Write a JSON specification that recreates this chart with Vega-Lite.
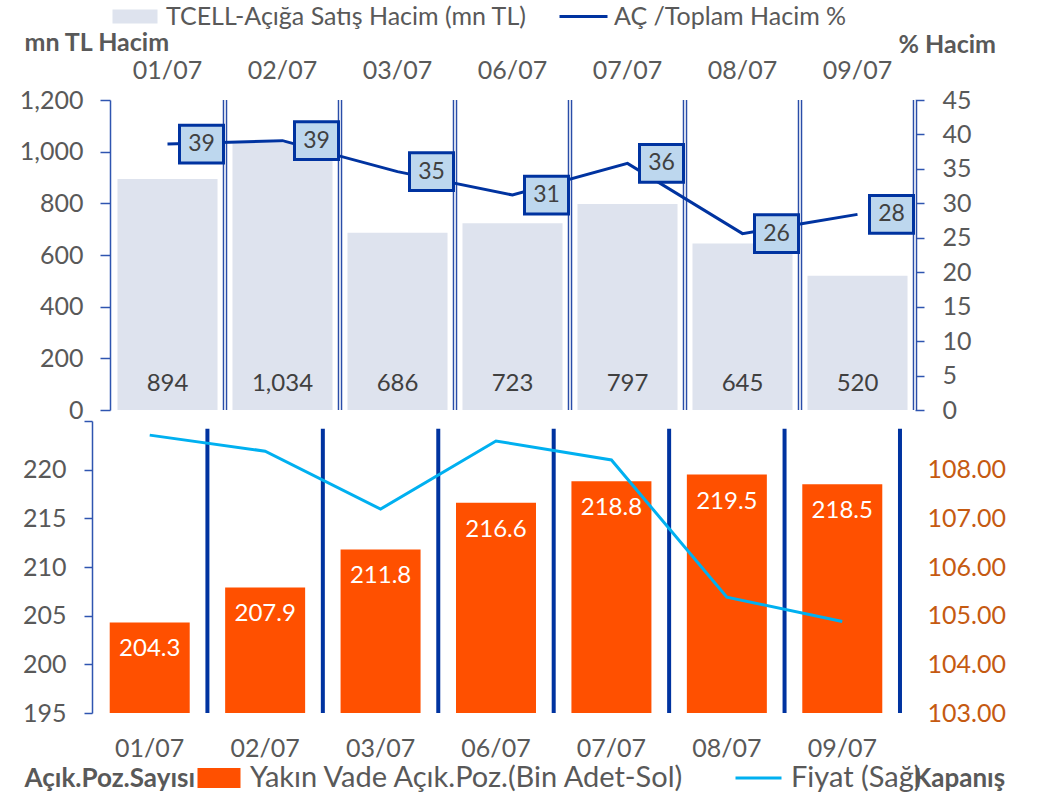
{
  "$schema": "https://vega.github.io/schema/vega-lite/v6.json",
  "autosize": {"type": "pad"},
  "padding": {"left": 19, "top": 4, "right": 5, "bottom": 5},
  "background": "white",
  "config": {
    "font": "Lato",
    "view": {"stroke": null},
    "axis": {"grid": false, "labelFont": "Lato", "titleFont": "Lato"},
    "legend": {"labelFont": "Lato", "titleFont": "Lato", "labelLimit": 0}
  },
  "datasets": {
    "d": [
      {"date": "01/07", "vol": 894, "pct": 38.6, "pos": 204.3, "price": 108.71},
      {"date": "02/07", "vol": 1034, "pct": 39.1, "pos": 207.9, "price": 108.38},
      {"date": "03/07", "vol": 686, "pct": 34.6, "pos": 211.8, "price": 107.19},
      {"date": "06/07", "vol": 723, "pct": 31.2, "pos": 216.6, "price": 108.59},
      {"date": "07/07", "vol": 797, "pct": 35.8, "pos": 218.8, "price": 108.2},
      {"date": "08/07", "vol": 645, "pct": 25.6, "pos": 219.5, "price": 105.38},
      {"date": "09/07", "vol": 520, "pct": 28.4, "pos": 218.5, "price": 104.88}
    ]
  },
  "data": {"name": "d"},
  "spacing": 11,
  "bounds": "flush",
  "resolve": {
    "scale": {"fill": "independent", "stroke": "independent", "x": "independent"},
    "legend": {"fill": "independent", "stroke": "independent"}
  },
  "vconcat": [
    {
      "width": 823,
      "height": 310,
      "encoding": {
        "x": {
          "field": "date", "type": "ordinal", "sort": null,
          "scale": {"range": [18, 823], "paddingInner": 0.13, "paddingOuter": 0.065},
          "axis": {"orient": "top", "title": null, "domain": false, "ticks": false, "labelAngle": 0, "labelFontSize": 25, "labelColor": "#595959", "labelPadding": 17}
        }
      },
      "layer": [
        {
          "layer": [
            {
              "mark": {"type": "bar"},
              "encoding": {
                "y": {
                  "field": "vol", "type": "quantitative",
                  "scale": {"domain": [0, 1200], "nice": false, "zero": true},
                  "axis": {
                    "orient": "left", "offset": -18,
                    "values": [0, 200, 400, 600, 800, 1000, 1200], "format": ",.0f", "labelOverlap": false,
                    "labelFontSize": 25, "labelColor": "#595959", "labelPadding": 17,
                    "tickSize": 10, "tickColor": "#2F55B0", "tickWidth": 1.5,
                    "domainColor": "#2F55B0", "domainWidth": 1.5,
                    "title": "mn TL Hacim", "titleAngle": 0, "titleAlign": "left", "titleBaseline": "middle",
                    "titleX": -86, "titleY": -58, "titleFontSize": 25, "titleFontWeight": "bold", "titleColor": "#595959"
                  }
                },
                "fill": {
                  "datum": "TCELL-Açığa Satış Hacim (mn TL)",
                  "scale": {"range": ["#DEE3EE"]},
                  "legend": {
                    "orient": "none", "legendX": 15, "legendY": -96, "title": null,
                    "symbolType": "M-1,-1H5.43V1H-1Z", "symbolSize": 196, "symbolStrokeWidth": 0,
                    "labelFontSize": 25, "labelColor": "#595959", "labelOffset": 34
                  }
                }
              }
            },
            {"mark": {"type": "rule", "color": "#2A4DA8", "strokeWidth": 4.5, "xOffset": 57.5}, "encoding": {}},
            {"mark": {"type": "rule", "color": "white", "strokeWidth": 1.6, "xOffset": 57.5}, "encoding": {}},
            {
              "mark": {"type": "text", "baseline": "middle", "dy": -26, "fontSize": 24, "color": "#404040"},
              "encoding": {
                "y": {
                  "datum": 0, "type": "quantitative",
                  "scale": {"domain": [0, 1200], "nice": false, "zero": true},
                  "axis": {
                    "orient": "left", "offset": -18,
                    "values": [0, 200, 400, 600, 800, 1000, 1200], "format": ",.0f", "labelOverlap": false,
                    "labelFontSize": 25, "labelColor": "#595959", "labelPadding": 17,
                    "tickSize": 10, "tickColor": "#2F55B0", "tickWidth": 1.5,
                    "domainColor": "#2F55B0", "domainWidth": 1.5,
                    "title": "mn TL Hacim", "titleAngle": 0, "titleAlign": "left", "titleBaseline": "middle",
                    "titleX": -86, "titleY": -58, "titleFontSize": 25, "titleFontWeight": "bold", "titleColor": "#595959"
                  }
                },
                "text": {"field": "vol", "type": "quantitative", "format": ",.0f"}
              }
            }
          ]
        },
        {
          "encoding": {
            "y": {
              "field": "pct", "type": "quantitative",
              "scale": {"domain": [0, 45], "nice": false},
              "axis": {
                "orient": "right", "values": [0, 5, 10, 15, 20, 25, 30, 35, 40, 45], "format": ".0f",
                "labelOverlap": false,
                "labelFontSize": 25, "labelColor": "#595959", "labelPadding": 18,
                "tickSize": 9, "tickColor": "#2F55B0", "tickWidth": 1.5, "domain": false,
                "title": "% Hacim", "titleAngle": 0, "titleAlign": "left", "titleBaseline": "middle",
                "titleX": -17, "titleY": -56, "titleFontSize": 25, "titleFontWeight": "bold", "titleColor": "#595959"
              }
            }
          },
          "layer": [
            {
              "mark": {"type": "line", "strokeWidth": 3},
              "encoding": {
                "stroke": {
                  "datum": "AÇ /Toplam Hacim %",
                  "scale": {"range": ["#0033A0"]},
                  "legend": {
                    "orient": "none", "legendX": 459, "legendY": -96, "title": null,
                    "symbolType": "M-1,0H11", "symbolSize": 64, "symbolStrokeWidth": 3,
                    "labelFontSize": 25, "labelColor": "#595959", "labelOffset": 38
                  }
                }
              }
            },
            {
              "mark": {"type": "point", "shape": "M-1,-0.86H1V0.86H-1Z", "size": 1936, "filled": true, "fill": "#BDD7EE", "stroke": "#0033A0", "strokeWidth": 3, "opacity": 1, "xOffset": 34},
              "encoding": {}
            },
            {
              "mark": {"type": "text", "baseline": "middle", "fontSize": 23, "color": "#404040", "xOffset": 34},
              "encoding": {"text": {"field": "pct", "type": "quantitative", "format": ".0f"}}
            }
          ]
        }
      ],
      "resolve": {"scale": {"y": "independent"}}
    },
    {
      "width": 808,
      "height": 292,
      "encoding": {
        "x": {
          "field": "date", "type": "ordinal", "sort": null,
          "scale": {"paddingInner": 0.307, "paddingOuter": 0.1535},
          "axis": {"orient": "bottom", "title": null, "domain": false, "ticks": false, "labelAngle": 0, "labelFontSize": 25, "labelColor": "#595959", "labelPadding": 23}
        }
      },
      "layer": [
        {
          "layer": [
            {
              "mark": {"type": "bar"},
              "encoding": {
                "y": {
                  "field": "pos", "type": "quantitative",
                  "scale": {"domain": [195, 225], "zero": false, "nice": false},
                  "axis": {
                    "orient": "left", "values": [195, 200, 205, 210, 215, 220, 225], "format": ".0f", "labelOverlap": false,
                    "labelExpr": "datum.value >= 225 ? '' : datum.label",
                    "labelFontSize": 25, "labelColor": "#595959", "labelPadding": 18,
                    "tickSize": 8, "tickColor": "#2F55B0", "tickWidth": 1.5,
                    "domainColor": "#2F55B0", "domainWidth": 1.5,
                    "title": "Açık.Poz.Sayısı", "titleAngle": 0, "titleAlign": "left", "titleBaseline": "middle",
                    "titleX": -68, "titleY": 357, "titleFontSize": 26, "titleFontWeight": "bold", "titleColor": "#595959"
                  }
                },
                "y2": {"datum": 195},
                "fill": {
                  "datum": "Yakın Vade Açık.Poz.(Bin Adet-Sol)",
                  "scale": {"range": ["#FF5000"]},
                  "legend": {
                    "orient": "none", "legendX": 101, "legendY": 342.5, "title": null,
                    "symbolType": "M-1,-1H3.3V1H-1Z", "symbolSize": 400, "symbolStrokeWidth": 0,
                    "labelFontSize": 29, "labelColor": "#595959", "labelOffset": 28
                  }
                }
              }
            },
            {
              "mark": {"type": "rule", "color": "#0033A0", "strokeWidth": 4, "xOffset": 57.7},
              "encoding": {
                "y": {
                  "datum": 224.2, "type": "quantitative",
                  "scale": {"domain": [195, 225], "zero": false, "nice": false},
                  "axis": {
                    "orient": "left", "values": [195, 200, 205, 210, 215, 220, 225], "format": ".0f", "labelOverlap": false,
                    "labelExpr": "datum.value >= 225 ? '' : datum.label",
                    "labelFontSize": 25, "labelColor": "#595959", "labelPadding": 18,
                    "tickSize": 8, "tickColor": "#2F55B0", "tickWidth": 1.5,
                    "domainColor": "#2F55B0", "domainWidth": 1.5,
                    "title": "Açık.Poz.Sayısı", "titleAngle": 0, "titleAlign": "left", "titleBaseline": "middle",
                    "titleX": -68, "titleY": 357, "titleFontSize": 26, "titleFontWeight": "bold", "titleColor": "#595959"
                  }
                },
                "y2": {"datum": 195}
              }
            },
            {
              "mark": {"type": "text", "baseline": "middle", "dy": 27, "fontSize": 24, "color": "white"},
              "encoding": {
                "y": {
                  "field": "pos", "type": "quantitative",
                  "scale": {"domain": [195, 225], "zero": false, "nice": false},
                  "axis": {
                    "orient": "left", "values": [195, 200, 205, 210, 215, 220, 225], "format": ".0f", "labelOverlap": false,
                    "labelExpr": "datum.value >= 225 ? '' : datum.label",
                    "labelFontSize": 25, "labelColor": "#595959", "labelPadding": 18,
                    "tickSize": 8, "tickColor": "#2F55B0", "tickWidth": 1.5,
                    "domainColor": "#2F55B0", "domainWidth": 1.5,
                    "title": "Açık.Poz.Sayısı", "titleAngle": 0, "titleAlign": "left", "titleBaseline": "middle",
                    "titleX": -68, "titleY": 357, "titleFontSize": 26, "titleFontWeight": "bold", "titleColor": "#595959"
                  }
                },
                "text": {"field": "pos", "type": "quantitative", "format": ".1f"}
              }
            }
          ]
        },
        {
          "layer": [
            {
              "mark": {"type": "line", "strokeWidth": 3},
              "encoding": {
                "y": {
                  "field": "price", "type": "quantitative",
                  "scale": {"domain": [103, 109], "zero": false, "nice": false},
                  "axis": {
                    "orient": "right", "values": [103, 104, 105, 106, 107, 108, 109], "format": ".2f", "labelOverlap": false,
                    "labelExpr": "datum.value >= 109 ? '' : datum.label",
                    "labelFontSize": 25, "labelColor": "#C55A11", "labelPadding": 27,
                    "ticks": false, "domain": false,
                    "title": "Kapanış", "titleAngle": 0, "titleAlign": "left", "titleBaseline": "middle",
                    "titleX": 13, "titleY": 357, "titleFontSize": 26, "titleFontWeight": "bold", "titleColor": "#595959"
                  }
                },
                "stroke": {
                  "datum": "Fiyat (Sağ)",
                  "scale": {"range": ["#00B0F0"]},
                  "legend": {
                    "orient": "none", "legendX": 633, "legendY": 342.5, "title": null,
                    "symbolType": "M-1,0H10.5", "symbolSize": 64, "symbolStrokeWidth": 3,
                    "labelFontSize": 29, "labelColor": "#595959", "labelOffset": 37
                  }
                }
              }
            }
          ]
        }
      ],
      "resolve": {"scale": {"y": "independent"}}
    }
  ]
}
